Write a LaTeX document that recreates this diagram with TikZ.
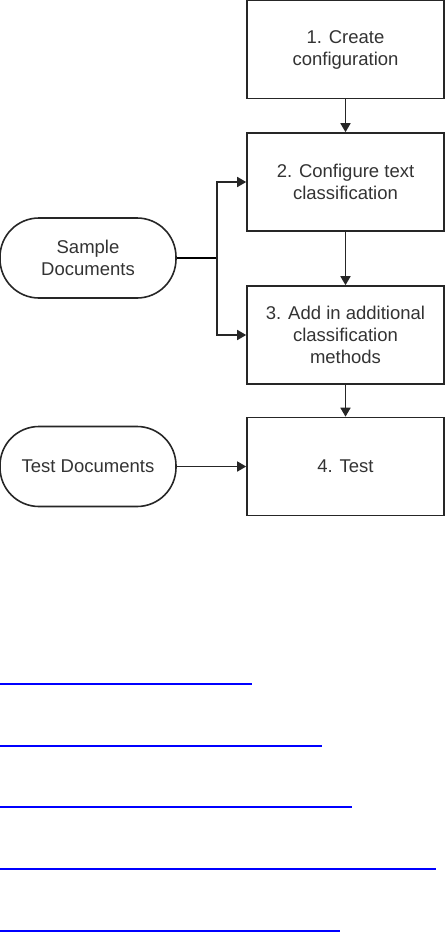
\documentclass[tikz,border=0pt]{standalone}
\usepackage{fontspec}
\setmainfont{Liberation Sans}
\usetikzlibrary{
  arrows.meta,
  calc,
  positioning
}
\tikzset{
  >={Triangle[length=9pt,width=10pt]},
  line cap=round,
  line join=round,
  every picture/.style={line width=1.6pt},
  box/.style={draw=black!85, minimum width=197pt, minimum height=98pt, align=center, text=black!80, font=\fontsize{18.5}{22}\selectfont},
  terminal/.style={draw=black!85, rounded corners=39pt, minimum width=176pt, minimum height=80pt, align=center, text=black!80, font=\fontsize{18.5}{22}\selectfont},
  arrow/.style={->, draw=black!85},
  link/.style={draw=blue, line width=1.2pt}
}
\begin{document}
\begin{tikzpicture}[x=1pt,y=-1pt]
		\useasboundingbox (0,0) rectangle (445,932);

		\node[box] (create) at(345.5,49.5) {1. Create\\configuration};
		\node[box] (config) at(345.5,182) {2. Configure text\\classification};
		\node[box] (add) at(345.5,335) {3. Add in additional\\classification\\methods};
		\node[box] (test) at(345.5,466.5) {4. Test};

		\node[terminal] (sample) at(88,258) {Sample\\Documents};
		\node[terminal] (testdocs) at(88,466.5) {Test Documents};

		\draw[arrow] (create)--(config);
		\draw[arrow] (config)--(add);
		\draw[arrow] (add)--(test);
		\draw[arrow] (testdocs)--(test);

    \coordinate (S) at(217,258);
		\draw (sample.east)--(S);
		\draw[arrow] (S)|-(config.west);
		\draw[arrow] (S)|-(add.west);

    % underlined links
    \foreach \y/\len in {684/252, 746/322, 807/352, 869/436, 931/340}
      \draw[link] (0,\y)--(\len,\y);
	\end{tikzpicture}
\end{document}
